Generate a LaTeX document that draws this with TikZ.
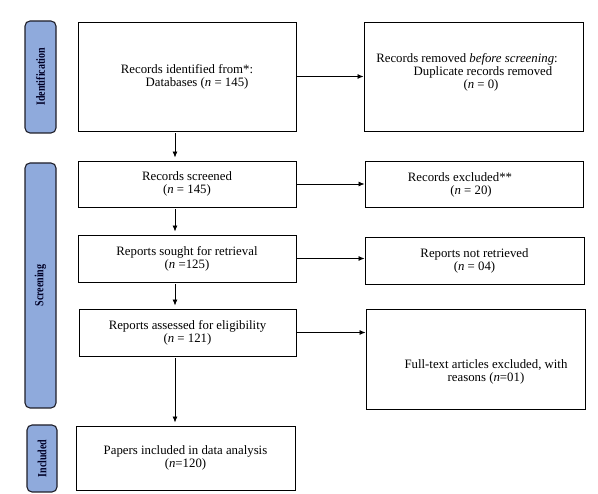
\documentclass[tikz,border=0pt]{standalone}
\usepackage{fontspec}
\setmainfont{Liberation Serif}
\usetikzlibrary{arrows.meta}
\definecolor{barblue}{RGB}{143,170,220}
\definecolor{barline}{RGB}{30,30,40}
\begin{document}
\begin{tikzpicture}[x=1pt,y=-1pt,
  box/.style={draw, line width=0.9pt, inner sep=0pt, align=center,
    font=\fontsize{12.8}{13}\selectfont},
  txt/.style={inner sep=0pt, align=center, font=\fontsize{12.8}{13}\selectfont},
  bar/.style={draw=barline, rounded corners=5pt, fill=barblue, line width=1.1pt, inner sep=0pt},
  barlabel/.style={rotate=90, xscale=0.8, font=\fontsize{12.5}{13}\selectfont\bfseries, text=black!85!blue},
  arr/.style={-{Latex[length=6pt,width=5pt]}, line width=0.8pt},
  darr/.style={arr, shorten <=2pt, shorten >=3pt}]
\useasboundingbox (0,0) rectangle (598,494);
% phase bars
\node[bar, minimum width=31pt, minimum height=112pt] (bident) at (40.5,77) {};
\node[barlabel] (lident) at (bident.center) {Identification};
\node[bar, minimum width=31pt, minimum height=245pt] (bscreen) at (40.5,285.5) {};
\node[barlabel] (lscreen) at (bscreen.center) {Screening};
\node[bar, minimum width=30pt, minimum height=67pt] (bincl) at (42,458.5) {};
\node[barlabel] (lincl) at (bincl.center) {Included};
% left column
\node[box, minimum width=218pt, minimum height=109pt] (ident) at (187,76.5)
  {Records identified from*:\\\hspace*{20pt}Databases (\textit{n} = 145)};
\node[box, minimum width=218pt, minimum height=46pt] (screened) at (187,184)
  {Records screened\\(\textit{n} = 145)};
\node[box, minimum width=218pt, minimum height=47pt] (sought) at (187,258.5)
  {Reports sought for retrieval\\(\textit{n} =125)};
\node[box, minimum width=217pt, minimum height=47pt] (assessed) at (187.5,332.5)
  {Reports assessed for eligibility\\(\textit{n} = 121)};
\node[box, minimum width=219pt, minimum height=64pt] (papers) at (185.5,458)
  {Papers included in data analysis\\(\textit{n}=120)};
% right column
\node[box, minimum width=219pt, minimum height=109pt] (removed) at (473.5,76.5) {};
\node[txt] (removedtxt) at (467,72)
  {Records removed \textit{before screening}:\\\hspace*{32pt}Duplicate records removed\\\hspace*{28pt}(\textit{n} = 0)};
\node[box, minimum width=218pt, minimum height=46pt] (excluded) at (474,184) {};
\node[txt] (excludedtxt) at (460,184.5)
  {Records excluded**\\\hspace*{22pt}(\textit{n} = 20)};
\node[box, minimum width=219pt, minimum height=47pt] (notret) at (474.5,260.5)
  {Reports not retrieved\\(\textit{n} = 04)};
\node[box, minimum width=219pt, minimum height=100pt] (fulltext) at (475.5,359) {};
\node[txt] (fulltexttxt) at (486,372)
  {Full-text articles excluded, with\\reasons (\textit{n}=01)};
% horizontal arrows
\draw[arr] (ident.east) -- (removed.west);
\draw[arr] (screened.east) -- (excluded.west);
\draw[arr] (sought.east) -- (sought.east -| notret.west);
\draw[arr] (assessed.east) -- (assessed.east -| fulltext.west);
% vertical arrows
\draw[darr] ([xshift=-12pt]ident.south) -- ([xshift=-12pt]ident.south |- screened.north);
\draw[darr] ([xshift=-12pt]screened.south) -- ([xshift=-12pt]screened.south |- sought.north);
\draw[darr] ([xshift=-12pt]sought.south) -- ([xshift=-12pt]sought.south |- assessed.north);
\draw[darr] ([xshift=-12.5pt]assessed.south) -- ([xshift=-12.5pt]assessed.south |- papers.north);
\end{tikzpicture}
\end{document}
